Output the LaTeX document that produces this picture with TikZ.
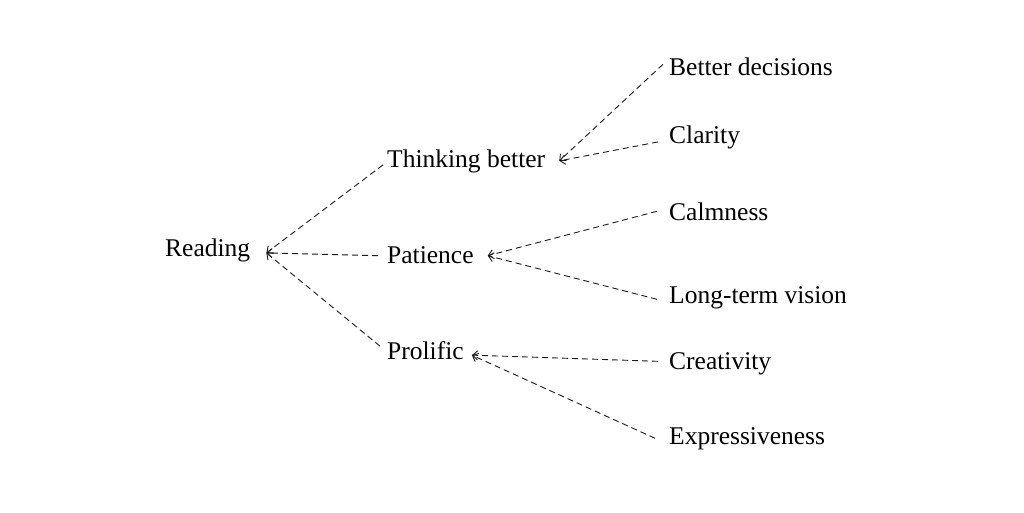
\documentclass[tikz,border=0pt]{standalone}
\usepackage{fontspec}
\setmainfont{Liberation Serif}
\usetikzlibrary{arrows.meta}
\begin{document}
\begin{tikzpicture}[x=1pt,y=-1pt,
  lbl/.style={anchor=base west,inner xsep=0pt,inner ysep=0pt,font=\fontsize{25.5}{30}\selectfont},
  link/.style={draw=black!90,line width=0.9pt,dash pattern=on 6pt off 4pt,-{Straight Barb[length=5pt,width=9pt,line width=0.9pt]}}]
\useasboundingbox (0,0) rectangle (1024,512);
\node[lbl] (reading) at (165,256) {Reading};
\node[lbl] (think) at (387,167) {Thinking better};
\node[lbl] (pat) at (387,263) {Patience};
\node[lbl] (prol) at (387,359) {Prolific};
\node[lbl] (bd) at (669,75) {Better decisions};
\node[lbl] (cl) at (669,143) {Clarity};
\node[lbl] (calm) at (669,220) {Calmness};
\node[lbl] (ltv) at (669,303) {Long-term vision};
\node[lbl] (cr) at (669,369) {Creativity};
\node[lbl] (ex) at (669,444) {Expressiveness};
\coordinate (rt) at ([xshift=16pt,yshift=-3pt]reading.east);
\coordinate (tt) at ([xshift=14pt]think.east);
\coordinate (pt) at ([xshift=14pt,yshift=-1pt]pat.east);
\coordinate (prt) at ([xshift=8pt,yshift=-5pt]prol.east);
\draw[link] ([xshift=-4pt,yshift=-4pt]think.west) -- (rt);
\draw[link] ([xshift=-9pt,yshift=-1pt]pat.west) -- (rt);
\draw[link] ([xshift=-7pt,yshift=4pt]prol.west) -- (rt);
\draw[link] ([xshift=-6pt,yshift=2pt]bd.west) -- (tt);
\draw[link] ([xshift=-11pt,yshift=-5pt]cl.west) -- (tt);
\draw[link] ([xshift=-12pt]calm.west) -- (pt);
\draw[link] ([xshift=-12pt,yshift=-2pt]ltv.west) -- (pt);
\draw[link] ([xshift=-11pt,yshift=2pt]cr.west) -- (prt);
\draw[link] ([xshift=-14pt]ex.west) -- (prt);
\end{tikzpicture}
\end{document}
